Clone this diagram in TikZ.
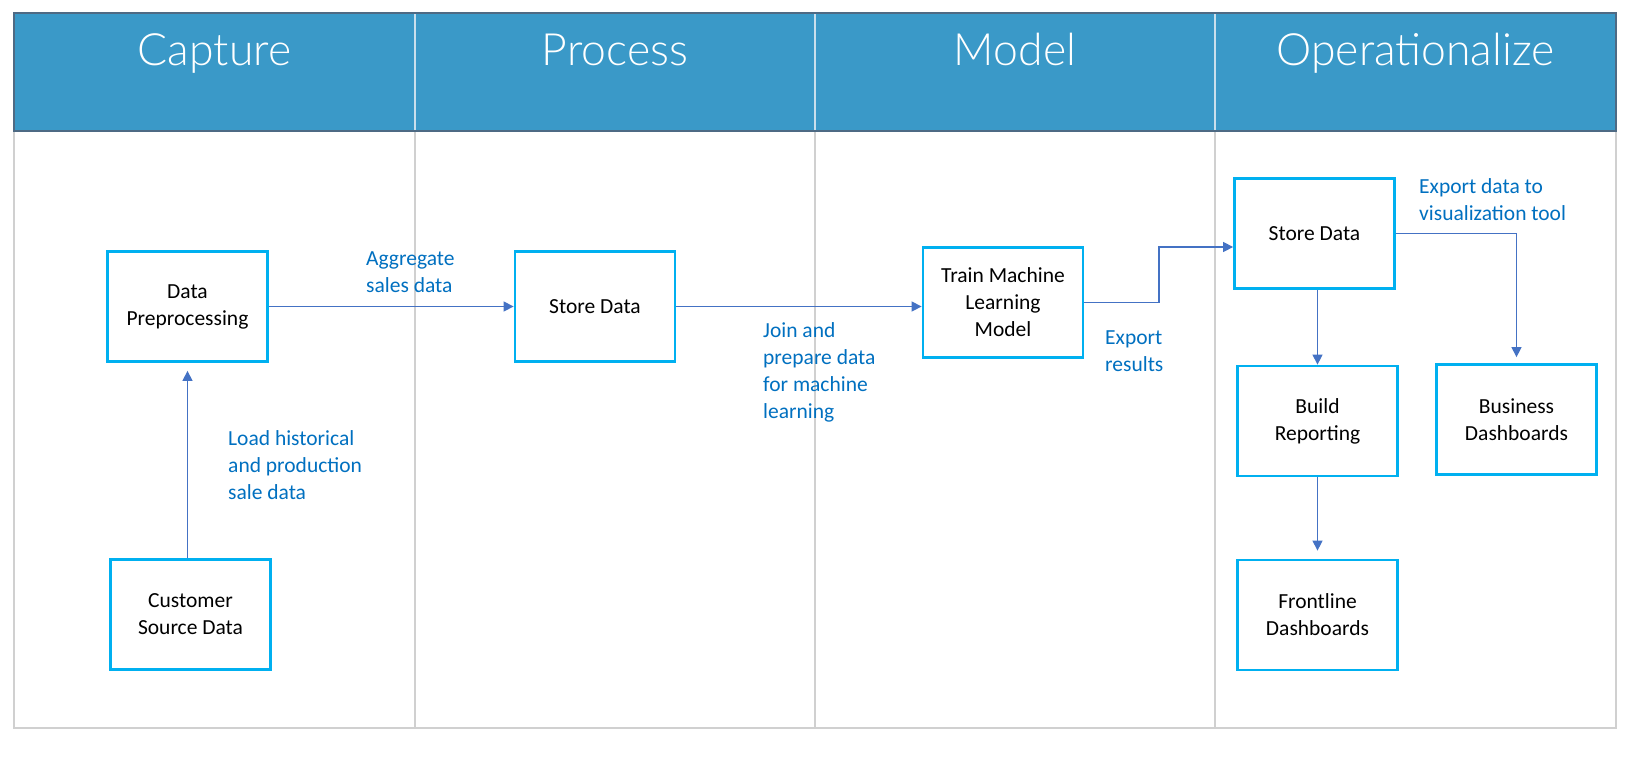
\documentclass[tikz,border=0pt]{standalone}
\usepackage{fontspec}
\setmainfont{Carlito}
\newfontfamily\hdrfont{Lato Light}
\usetikzlibrary{arrows.meta,calc}
\definecolor{hdrblue}{HTML}{3A99C8}
\definecolor{hdrline}{HTML}{4E6A84}
\definecolor{hdrdiv}{HTML}{C9DFEC}
\definecolor{boxblue}{HTML}{00B0F0}
\definecolor{arrblue}{HTML}{4472C4}
\definecolor{lblblue}{HTML}{0070C0}
\definecolor{gridgray}{HTML}{D0D0D0}
\begin{document}
\begin{tikzpicture}[x=1pt,y=-1pt,
  procbox/.style={draw=boxblue, line width=2.8pt, minimum width=160pt, minimum height=110pt,
    inner sep=0pt, align=center, text=black, font=\fontsize{21.5}{27}\selectfont},
  flow/.style={draw=arrblue, line width=1.3pt, -{Triangle[length=10pt,width=10pt]}},
  lbl/.style={anchor=base west, inner sep=0pt, text=lblblue, font=\fontsize{21.5}{27.3}\selectfont},
  lanetitle/.style={anchor=base, inner sep=0pt, text=white, font=\hdrfont\fontsize{44.5}{50}\selectfont},
  lanediv/.style={draw=gridgray, line width=1.5pt},
  ]
\useasboundingbox (0,0) rectangle (1646,761);
\fill[white] (0,0) rectangle (1646,761);
% body frame and lane dividers
\draw[lanediv] (14,131) rectangle (1616,728);
\foreach \xx in {415,815,1215} \draw[lanediv] (\xx,131) -- (\xx,728);
% header
\filldraw[fill=hdrblue, draw=hdrline, line width=2pt] (14,13) rectangle (1616,131);
\foreach \xx in {415,815,1215} \draw[draw=hdrdiv, line width=1.2pt] (\xx,14) -- (\xx,130);
\node[lanetitle] (tcap) at (214.5,65) {Capture};
\node[lanetitle] (tpro) at (615,65) {Process};
\node[lanetitle] (tmod) at (1015,65) {Model};
\node[lanetitle] (tope) at (1415.5,65) {Operationalize};
% boxes
\node[procbox] (dp) at (187.5,306.5) {Data\\Preprocessing};
\node[procbox] (cs) at (190.5,614.5) {Customer\\Source Data};
\node[procbox] (sp) at (595,306.5) {Store Data};
\node[procbox] (tm) at (1003,302.5) {Train Machine\\Learning\\Model};
\node[procbox] (so) at (1314.5,233.5) {Store Data};
\node[procbox] (br) at (1317.5,421) {Build\\Reporting};
\node[procbox] (fd) at (1317.5,615) {Frontline\\Dashboards};
\node[procbox] (bd) at (1516.5,419.5) {Business\\Dashboards};
% connectors
\draw[flow, shorten >=8pt] (dp.south |- cs.north) -- (dp.south);
\draw[flow] (dp.east) -- (sp.west);
\draw[flow] (sp.east) -- (sp.east -| tm.west);
\coordinate (k1) at (1159,247);
\draw[flow] (tm.east) -| (k1) -- (k1 -| so.west);
\draw[flow] (br.north |- so.south) -- (br.north);
\draw[flow, shorten >=8pt] (br.south) -- (fd.north);
\draw[flow, shorten >=6pt] (so.east) -| (bd.north);
% labels
\node[lbl] (lagg) at (366,265) {\begin{tabular}[t]{@{}l@{}}Aggregate\\sales data\end{tabular}};
\node[lbl] (lload) at (228,445) {\begin{tabular}[t]{@{}l@{}}Load historical\\and production\\sale data\end{tabular}};
\node[lbl] (ljoin) at (763,337) {\begin{tabular}[t]{@{}l@{}}Join and\\prepare data\\for machine\\learning\end{tabular}};
\node[lbl] (lexp) at (1105,344) {\begin{tabular}[t]{@{}l@{}}Export\\results\end{tabular}};
\node[lbl] (lvis) at (1419,193) {\begin{tabular}[t]{@{}l@{}}Export data to\\visualization tool\end{tabular}};
\end{tikzpicture}
\end{document}
